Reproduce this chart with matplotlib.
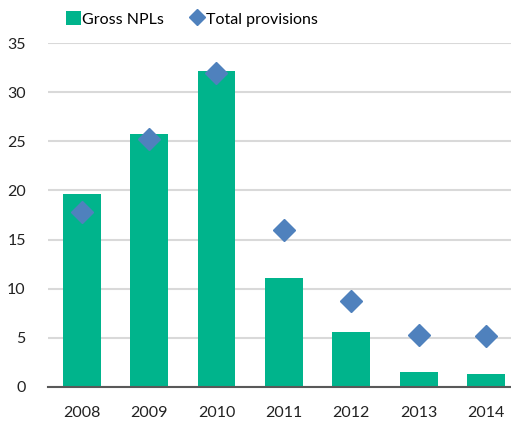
import matplotlib.pyplot as plt
import numpy as np
from matplotlib.lines import Line2D
from matplotlib.patches import Patch

years = ['2008', '2009', '2010', '2011', '2012', '2013', '2014']
gross_npls = [19.6, 25.7, 32.2, 11.05, 5.6, 1.55, 1.35]
total_provisions = [17.8, 25.2, 31.9, 16.0, 8.75, 5.3, 5.2]

green = '#00B48C'
blue = '#4F81BD'

plt.rcParams['font.family'] = ['Lato', 'DejaVu Sans']

fig = plt.figure(figsize=(5.11, 4.21), dpi=100)
ax = fig.add_axes([48 / 511, 34 / 421, 463 / 511, 344 / 421])

x = np.arange(len(years))
ax.bar(x, gross_npls, width=0.56, color=green, zorder=2)
ax.plot(x, total_provisions, linestyle='None', marker='D', markersize=11.5,
        color=blue, zorder=3)

ax.set_xlim(-0.5, 6.37)
ax.set_ylim(0, 35)
ax.set_yticks(range(0, 36, 5))
ax.set_xticks(x)
ax.set_xticklabels(years)
ax.tick_params(axis='both', length=0, labelsize=11.5, colors='#222222')
ax.tick_params(axis='x', pad=14)
ax.tick_params(axis='y', pad=16)

ax.grid(axis='y', color='#D9D9D9', linewidth=1.5, zorder=0)
for side in ['top', 'right', 'left']:
    ax.spines[side].set_visible(False)
ax.spines['bottom'].set_color('#595959')
ax.spines['bottom'].set_linewidth(1.5)
ax.spines['bottom'].set_zorder(4)

handles = [
    Patch(facecolor=green, edgecolor='none'),
    Line2D([], [], linestyle='None', marker='D', markersize=8, color=blue),
]
fig.legend(handles, ['Gross NPLs', 'Total provisions'], loc='upper left',
           bbox_to_anchor=(52 / 511, 1.007), ncol=2, frameon=False,
           fontsize=11.5, handlelength=0.9, handletextpad=0.1,
           columnspacing=1.6, handleheight=0.9)

fig.savefig('out.png', dpi=100)
